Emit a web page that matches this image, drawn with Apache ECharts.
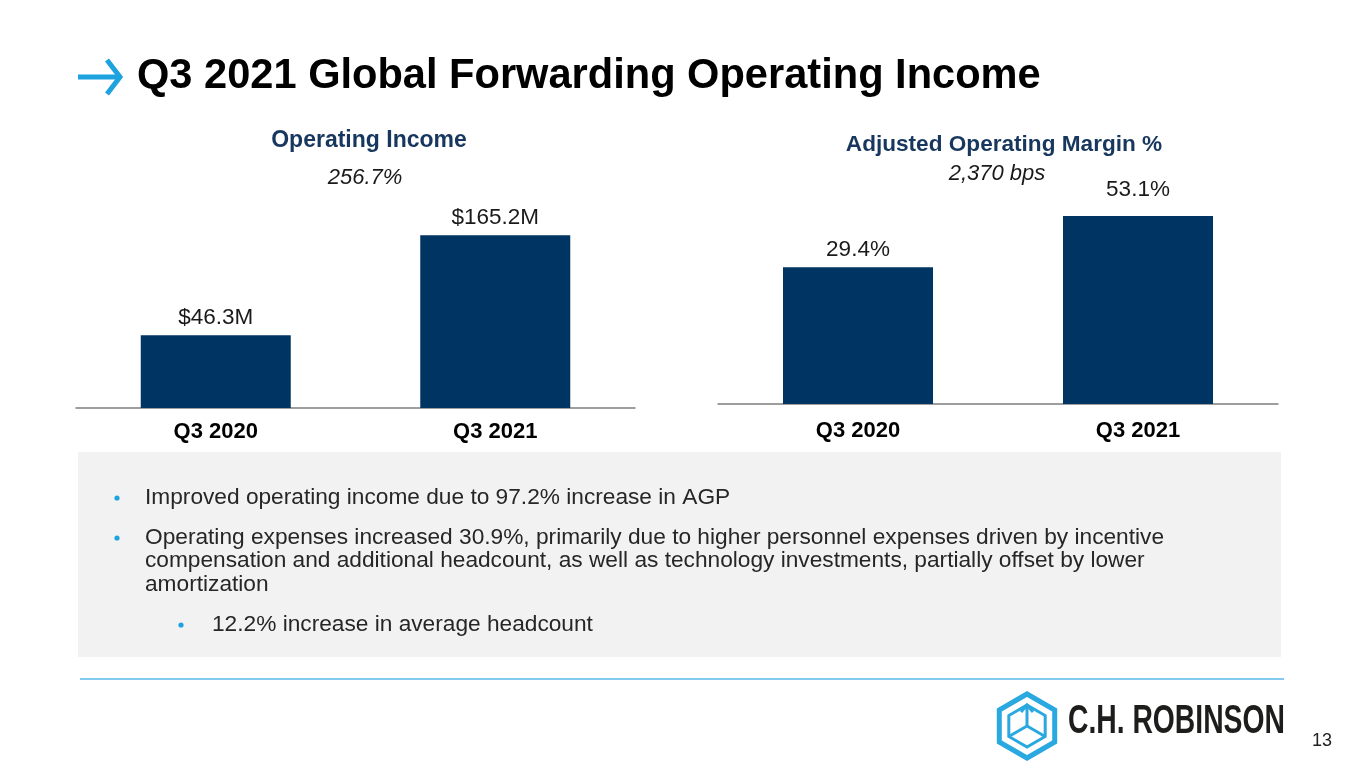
<!DOCTYPE html>
<html>
<head>
<meta charset="utf-8">
<title>Q3 2021 Global Forwarding Operating Income</title>
<script src="https://cdn.jsdelivr.net/npm/echarts@6/dist/echarts.min.js"></script>
<style>
  html, body { margin: 0; padding: 0; background: #fff; }
  #chart { width: 1365px; height: 768px; }
</style>
</head>
<body>
<div id="chart"></div>
<script>
// data
const categories = ['Q3 2020', 'Q3 2021'];
const incomeValues = [46.3, 165.2];      // $M
const marginValues = [29.4, 53.1];       // %
const incomeChange = '256.7%';
const marginChange = '2,370 bps';
const bullets = [
  'Improved operating income due to 97.2% increase in AGP',
  'Operating expenses increased 30.9%, primarily due to higher personnel expenses driven by incentive',
  'compensation and additional headcount, as well as technology investments, partially offset by lower',
  'amortization'
];
const subBullets = ['12.2% increase in average headcount'];

const NAVY = '#003462';
const BLUE = '#1FA3E0';
const FONT = '"Liberation Sans", Arial, sans-serif';

const myChart = echarts.init(document.getElementById('chart'));

// category axis shared look
const catAxis = (gridIndex, margin) => ({
  type: 'category',
  gridIndex: gridIndex,
  data: categories,
  axisTick: { show: false },
  axisLine: { onZero: false, lineStyle: { color: '#7f7f7f', width: 1.5 } },
  axisLabel: { fontFamily: FONT, fontSize: 22, fontWeight: 'bold', color: '#000', margin: margin }
});

// value axes hidden, baseline below zero like the slide
const valAxis = (gridIndex, min, max) => ({
  type: 'value',
  gridIndex: gridIndex,
  min: min,
  max: max,
  startValue: min,
  show: false,
  splitLine: { show: false }
});

const labelStyle = { show: true, position: 'top', fontFamily: FONT, fontSize: 22.5, color: '#1a1a1a', distance: 6 };

// hexagon helper for the logo
const hexPoints = (cx, cy, r) => {
  const pts = [];
  for (let i = 0; i < 6; i++) {
    const a = (Math.PI / 180) * (60 * i - 90);
    pts.push([cx + r * Math.cos(a), cy + r * Math.sin(a)]);
  }
  return pts;
};
const hc = [1027, 726];
const inner = hexPoints(hc[0], hc[1], 21);

const graphics = [
  // title arrow
  { type: 'polyline', shape: { points: [[78, 77], [119, 77]] }, style: { stroke: BLUE, lineWidth: 5 } },
  { type: 'polyline', shape: { points: [[107, 60], [120, 77], [107, 94]] }, style: { stroke: BLUE, lineWidth: 5, fill: null } },
  { type: 'text', style: { text: 'Q3 2021 Global Forwarding Operating Income', x: 137, y: 77, font: 'bold 41.6px ' + FONT, fill: '#000', verticalAlign: 'middle' } },

  // grey comment box
  { type: 'rect', z: -10, shape: { x: 78, y: 452, width: 1203, height: 205 }, style: { fill: '#F2F2F2' } },

  // bottom rule
  { type: 'line', shape: { x1: 80, y1: 679, x2: 1284, y2: 679 }, style: { stroke: '#5BB8E8', lineWidth: 1.5 } },

  // logo
  { type: 'polygon', shape: { points: hexPoints(hc[0], hc[1], 32) }, style: { stroke: '#2AA8E0', lineWidth: 5, fill: null } },
  { type: 'polygon', shape: { points: inner }, style: { stroke: '#2AA8E0', lineWidth: 3, fill: null } },
  { type: 'polyline', shape: { points: [inner[0], hc] }, style: { stroke: '#2AA8E0', lineWidth: 3 } },
  { type: 'polyline', shape: { points: [inner[2], hc] }, style: { stroke: '#2AA8E0', lineWidth: 3 } },
  { type: 'polyline', shape: { points: [inner[4], hc] }, style: { stroke: '#2AA8E0', lineWidth: 3 } },
  { type: 'polyline', shape: { points: [[hc[0] - 6, inner[0][1] + 7], inner[0], [hc[0] + 6, inner[0][1] + 7]] }, style: { stroke: '#2AA8E0', lineWidth: 3, fill: null } },
  { type: 'text', style: { text: 'C.H. ROBINSON', x: 0, y: 0, font: 'bold 41px ' + FONT, fill: '#1d1d1b', verticalAlign: 'middle' }, x: 1068, y: 722, scaleX: 0.69 },
  { type: 'text', style: { text: '13', x: 1312, y: 741, font: '18px ' + FONT, fill: '#222', verticalAlign: 'middle' } }
];

// bullet lines
const bulletY = [498, 538, 561, 585];
bullets.forEach((t, i) => {
  if (i === 0 || i === 1) {
    graphics.push({ type: 'circle', shape: { cx: 117, cy: bulletY[i], r: 2.6 }, style: { fill: BLUE } });
  }
  graphics.push({ type: 'text', style: { text: t, x: 145, y: bulletY[i], font: '22.7px ' + FONT, fill: '#262626', verticalAlign: 'middle' } });
});
subBullets.forEach((t, i) => {
  const y = 625 + i * 24;
  graphics.push({ type: 'circle', shape: { cx: 181, cy: y, r: 2.6 }, style: { fill: BLUE } });
  graphics.push({ type: 'text', style: { text: t, x: 212, y: y, font: '22.7px ' + FONT, fill: '#262626', verticalAlign: 'middle' } });
});

const option = {
  backgroundColor: '#fff',
  animation: false,
  title: [{
    text: 'Operating Income', left: 364, top: 124, textAlign: 'center',
    textStyle: { fontFamily: FONT, fontSize: 23, fontWeight: 'bold', color: '#17375E' }
  }, {
    text: incomeChange, left: 360, top: 162, textAlign: 'center',
    textStyle: { fontFamily: FONT, fontSize: 22, fontStyle: 'italic', fontWeight: 'normal', color: '#1a1a1a' }
  }, {
    text: 'Adjusted Operating Margin %', left: 999, top: 128, textAlign: 'center',
    textStyle: { fontFamily: FONT, fontSize: 22.6, fontWeight: 'bold', color: '#17375E' }
  }, {
    text: marginChange, left: 992, top: 158, textAlign: 'center',
    textStyle: { fontFamily: FONT, fontSize: 22, fontStyle: 'italic', fontWeight: 'normal', color: '#1a1a1a' }
  }],
  grid: [
    { left: 76, width: 559, top: 147, height: 261 },
    { left: 718, width: 560, top: 158, height: 246 }
  ],
  xAxis: [catAxis(0, 13), catAxis(1, 16)],
  yAxis: [valAxis(0, -40, 270), valAxis(1, -34, 80)],
  series: [{
    name: 'Operating Income',
    type: 'bar',
    xAxisIndex: 0,
    yAxisIndex: 0,
    barWidth: 150,
    data: incomeValues,
    itemStyle: { color: NAVY },
    label: Object.assign({}, labelStyle, { formatter: (p) => '$' + p.value.toFixed(1) + 'M' })
  }, {
    name: 'Adjusted Operating Margin %',
    type: 'bar',
    xAxisIndex: 1,
    yAxisIndex: 1,
    barWidth: 150,
    data: marginValues.map((v, i) => i === 1 ? { value: v, label: { distance: 15 } } : v),
    itemStyle: { color: NAVY },
    label: Object.assign({}, labelStyle, { formatter: (p) => p.value.toFixed(1) + '%' })
  }],
  graphic: graphics
};

myChart.setOption(option);
window.onresize = myChart.resize;
</script>
</body>
</html>
